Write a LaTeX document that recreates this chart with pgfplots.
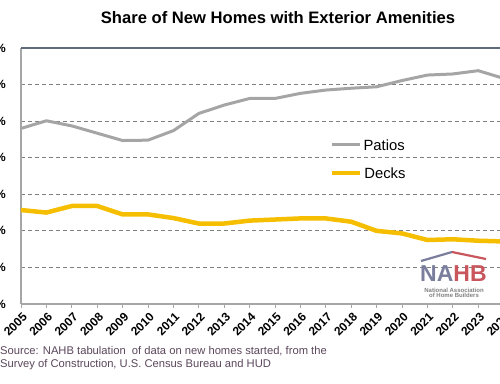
\documentclass[border=0pt]{standalone}
\usepackage{pgfplots}
\pgfplotsset{compat=1.18}
\usepackage{fontspec}
\setmainfont{Liberation Sans}
\definecolor{patio}{HTML}{A5A5A5}
\definecolor{deck}{HTML}{F6BE00}
\definecolor{gridc}{HTML}{808080}
\definecolor{axisc}{HTML}{A6A6A6}
\definecolor{topc}{HTML}{5F6B7A}
\definecolor{srcc}{HTML}{5A465A}
\definecolor{nahbblue}{HTML}{7A7E9C}
\definecolor{nahbred}{HTML}{C8565C}
\begin{document}
\begin{tikzpicture}
\useasboundingbox (0pt,0pt) rectangle (500pt,383pt);
\clip (0pt,0pt) rectangle (500pt,383pt);
\begin{axis}[
  at={(21pt,79pt)}, anchor=south west,
  scale only axis, width=482.6pt, height=256pt,
  xmin=2005, xmax=2024, ymin=0, ymax=70,
  axis lines*=left, axis line style={-, draw=axisc, line width=1.5pt},
  xtick={2005,2006,...,2024},
  xticklabels={2005,2006,2007,2008,2009,2010,2011,2012,2013,2014,2015,2016,2017,2018,2019,2020,2021,2022,2023,2024},
  xtick pos=bottom, tick align=outside,
  major tick length=4pt,
  x tick style={draw=axisc, line width=1pt},
  y tick style={draw=none},
  xticklabel style={xshift=4pt, yshift=-7pt, rotate=45, anchor=east, inner sep=0pt, font=\bfseries\fontsize{12}{12}\selectfont},
  ytick={0,10,...,70},
  yticklabel={\pgfmathprintnumber{\tick}\%},
  yticklabel style={anchor=east, inner sep=0pt, xshift=-11pt, font=\bfseries\fontsize{12}{12}\selectfont},
  /pgf/number format/assume math mode=true,
  ymajorgrids, grid style={draw=gridc, line width=0.8pt, dash pattern=on 4pt off 3pt},
  clip=false,
]
\addplot[color=patio, line width=3pt, line join=round] coordinates {
(2005,48.0) (2006,50.1) (2007,48.7) (2008,46.7) (2009,44.7) (2010,44.8)
(2011,47.4) (2012,52.1) (2013,54.4) (2014,56.2) (2015,56.2) (2016,57.6)
(2017,58.5) (2018,59.0) (2019,59.4) (2020,61.1) (2021,62.6) (2022,62.9)
(2023,63.8) (2024,61.7)};
\addplot[color=deck, line width=4.5pt, line join=round] coordinates {
(2005,25.7) (2006,25.0) (2007,26.8) (2008,26.8) (2009,24.5) (2010,24.5)
(2011,23.5) (2012,22.0) (2013,22.0) (2014,22.8) (2015,23.1) (2016,23.4)
(2017,23.4) (2018,22.5) (2019,20.0) (2020,19.3) (2021,17.5) (2022,17.7)
(2023,17.3) (2024,17.1)};
\draw[topc, line width=1.5pt] (axis cs:2005,70) -- (axis cs:2024,70);
\draw[patio, line width=3pt] (axis cs:2017.24,43.5) -- (axis cs:2018.35,43.5)
  node[right, black, inner sep=0pt, xshift=2pt, font=\fontsize{14.8}{14.8}\selectfont] {Patios};
\draw[deck, line width=4.5pt] (axis cs:2017.24,35.8) -- (axis cs:2018.35,35.8)
  node[right, black, inner sep=0pt, xshift=2pt, font=\fontsize{14.8}{14.8}\selectfont] {Decks};
\end{axis}
% title
\node[font=\bfseries\fontsize{16.6}{16.6}\selectfont, anchor=base] at (278pt,359pt) {Share of New Homes with Exterior Amenities};
% source
\node[anchor=base west, inner sep=0pt, text=srcc, font=\fontsize{11.2}{11.2}\selectfont] at (0pt,29pt) {Source: NAHB tabulation\ \ of data on new homes started, from the};
\node[anchor=base west, inner sep=0pt, text=srcc, font=\fontsize{11.2}{11.2}\selectfont] at (0pt,16pt) {Survey of Construction, U.S. Census Bureau and HUD};
% logo
\draw[nahbblue, line width=2.2pt] (421pt,122pt) -- (452pt,131pt);
\draw[nahbred, line width=2.2pt] (452pt,131pt) -- (486pt,124pt);
\node[anchor=base west, inner sep=0pt, font=\bfseries\fontsize{23}{23}\selectfont] at (420pt,102pt) {\textcolor{nahbblue}{NA}\textcolor{nahbred}{HB}};
\node[inner sep=0pt, text=gray, font=\bfseries\fontsize{6}{6}\selectfont, align=center] at (454pt,90pt) {National Association\\[-1pt]of Home Builders};
\end{tikzpicture}
\end{document}
